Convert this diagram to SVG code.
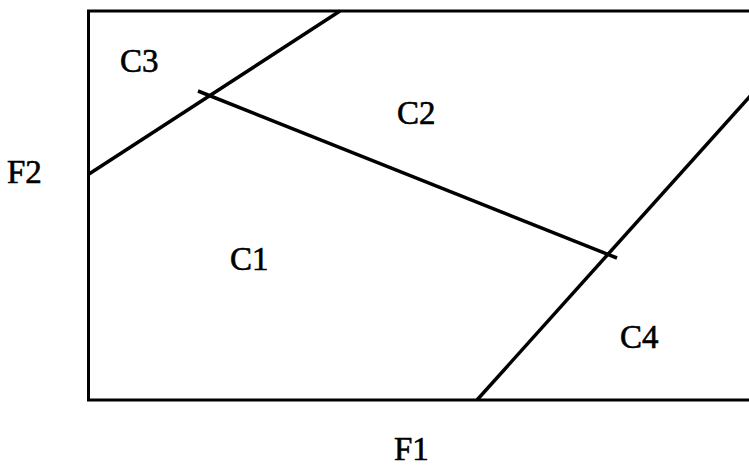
<svg xmlns="http://www.w3.org/2000/svg" width="749" height="466" viewBox="0 0 749 466">
<style>
.l{stroke:#000;stroke-width:3.5;fill:none;stroke-linecap:butt}
.b{stroke:#000;stroke-width:3;fill:none}
text{font-family:"Liberation Serif","Times New Roman",serif;font-size:33px;fill:#000;stroke:#000;stroke-width:0.6}
</style>
<rect width="749" height="466" fill="#fff"/>
<g id="frame"><path class="b" d="M760,11 H88.5 V400 H760"/></g>
<g id="connectors">
<line class="l" x1="89" y1="174" x2="340" y2="11"/>
<line class="l" x1="198" y1="91" x2="617" y2="258"/>
<line class="l" x1="477" y1="400" x2="752" y2="94"/>
</g>
<g id="C3"><text x="120" y="72">C3</text></g>
<g id="C2"><text x="397" y="124">C2</text></g>
<g id="C1"><text x="230" y="270">C1</text></g>
<g id="C4"><text x="620" y="348">C4</text></g>
<g id="F2"><text x="7" y="183">F2</text></g>
<g id="F1"><text x="394" y="460">F1</text></g>
</svg>
